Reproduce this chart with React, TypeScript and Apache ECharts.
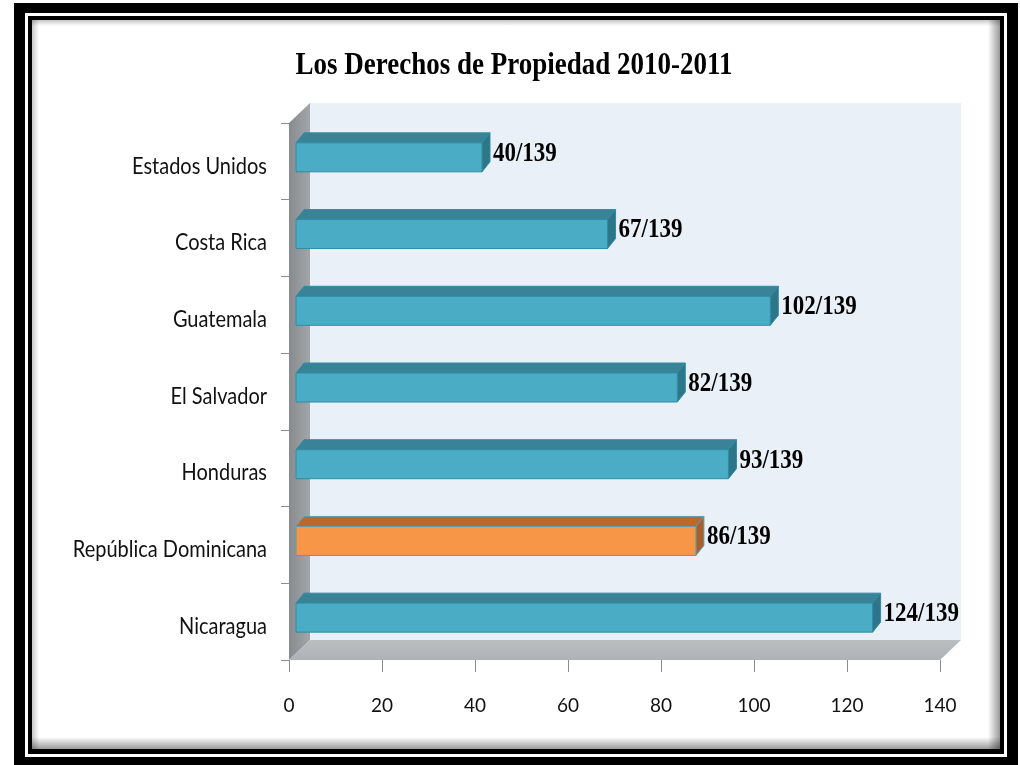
import React, { useEffect, useRef } from "react";
import * as echarts from "echarts";

const TITLE = "Los Derechos de Propiedad 2010-2011";
const categories = [
  "Estados Unidos",
  "Costa Rica",
  "Guatemala",
  "El Salvador",
  "Honduras",
  "República Dominicana",
  "Nicaragua",
];
const ranks = [40, 67, 102, 82, 93, 86, 124];
const totalCountries = 139;
const highlightCategory = "República Dominicana";
const xMin = 0;
const xMax = 140;
const xInterval = 20;

export default function App() {
  const ref = useRef<HTMLDivElement>(null);

  useEffect(() => {
    const chart = echarts.init(ref.current!, null, { renderer: "svg" });

    // 3D depth offsets (pixels)
    const DX = 21;
    const DY = -20;

    const wallsRender = (params: any, api: any) => {
      const cs = params.coordSys;
      const x0 = cs.x;
      const y0 = cs.y;
      const x1 = cs.x + cs.width;
      const y1 = cs.y + cs.height;
      return {
        type: "group",
        children: [
          {
            type: "rect",
            shape: { x: x0 + DX, y: y0 + DY, width: cs.width, height: cs.height },
            style: { fill: "#E9F0F7" },
          },
          {
            type: "polygon",
            shape: {
              points: [
                [x0, y0],
                [x0 + DX, y0 + DY],
                [x0 + DX, y1 + DY],
                [x0, y1],
              ],
            },
            style: {
              fill: new echarts.graphic.LinearGradient(0, 0, 1, 0, [
                { offset: 0, color: "#878B8F" },
                { offset: 1, color: "#A3A6A9" },
              ]),
            },
          },
          {
            type: "polygon",
            shape: {
              points: [
                [x0, y1],
                [x0 + DX, y1 + DY],
                [x1 + DX, y1 + DY],
                [x1, y1],
              ],
            },
            style: {
              fill: new echarts.graphic.LinearGradient(0, 0, 0, 1, [
                { offset: 0, color: "#BABEC1" },
                { offset: 1, color: "#ADB2B6" },
              ]),
            },
          },
        ],
      };
    };

    const barsRender = (params: any, api: any) => {
      const v = api.value(0);
      const i = api.value(1);
      const end = api.coord([v, i]);
      const start = api.coord([0, i]);
      const band = api.size([0, 1])[1];
      const h = Math.round(band * 0.38);
      const fx = 7;
      const fy = -4;
      const tx = 8;
      const ty = -10;
      const left = start[0] + fx;
      const right = end[0] + fx;
      const top = end[1] + fy - h / 2;
      const bottom = top + h;
      const hi = categories[i] === highlightCategory;
      const front = hi ? "#F79646" : "#4BACC6";
      const topC = hi ? "#B9692F" : "#3A8397";
      const side = hi ? "#A85F2A" : "#2F7588";
      const edge = hi ? "#5E9BAA" : "#2E8CA3";
      return {
        type: "group",
        children: [
          {
            type: "polygon",
            shape: {
              points: [
                [left, top],
                [left + tx, top + ty],
                [right + tx, top + ty],
                [right, top],
              ],
            },
            style: { fill: topC, stroke: edge, lineWidth: 1 },
          },
          {
            type: "polygon",
            shape: {
              points: [
                [right, top],
                [right + tx, top + ty],
                [right + tx, bottom + ty],
                [right, bottom],
              ],
            },
            style: { fill: side, stroke: edge, lineWidth: 1 },
          },
          {
            type: "rect",
            shape: { x: left, y: top, width: right - left, height: h },
            style: { fill: front, stroke: edge, lineWidth: 1 },
          },
          {
            type: "text",
            x: right + tx + 3,
            y: top + h / 2 - 6,
            scaleY: 1.22,
            style: {
              text: `${v}/${totalCountries}`,
              fontFamily: "Liberation Serif",
              fontWeight: "bold",
              fontSize: 23,
              fill: "#000000",
              align: "left",
              verticalAlign: "middle",
            },
          },
          {
            type: "text",
            x: start[0] - 22,
            y: start[1] + 3,
            scaleY: 1.18,
            style: {
              text: categories[i],
              fontFamily: "Lato",
              fontSize: 20,
              fill: "#111111",
              align: "right",
              verticalAlign: "middle",
            },
          },
        ],
      };
    };

    const shadow = (x: number, y: number, w: number, h: number, horiz: boolean, inward: boolean) => ({
      type: "rect",
      z: -5,
      shape: { x, y, width: w, height: h },
      style: {
        fill: new echarts.graphic.LinearGradient(
          0,
          0,
          horiz ? 1 : 0,
          horiz ? 0 : 1,
          inward
            ? [
                { offset: 0, color: "rgba(0,0,0,0.22)" },
                { offset: 1, color: "rgba(0,0,0,0)" },
              ]
            : [
                { offset: 0, color: "rgba(0,0,0,0)" },
                { offset: 1, color: "rgba(0,0,0,0.4)" },
              ]
        ),
      },
    });

    const option: any = {
      animation: false,
      graphic: [
        { type: "rect", z: -10, shape: { x: 14, y: 3, width: 1004, height: 762 }, style: { fill: "#000" } },
        { type: "rect", z: -9, shape: { x: 25, y: 13, width: 982, height: 744 }, style: { fill: "#fff" } },
        { type: "rect", z: -8, shape: { x: 28, y: 16, width: 976, height: 738 }, style: { fill: "#000" } },
        { type: "rect", z: -7, shape: { x: 32, y: 20, width: 968, height: 729 }, style: { fill: "#fff" } },
        shadow(32, 20, 7, 729, true, true),
        shadow(32, 20, 968, 6, false, true),
        shadow(988, 20, 12, 729, true, false),
        shadow(32, 737, 968, 12, false, false),
        {
          type: "text",
          z: 10,
          x: 514,
          y: 63,
          scaleY: 1.2,
          style: {
            text: TITLE,
            fontFamily: "Liberation Serif",
            fontWeight: "bold",
            fontSize: 27,
            fill: "#000",
            align: "center",
            verticalAlign: "middle",
          },
        },
      ],
      grid: { left: 289, right: 80, top: 123, bottom: 105, containLabel: false },
      xAxis: {
        type: "value",
        min: xMin,
        max: xMax,
        interval: xInterval,
        axisLine: { show: false },
        axisTick: { show: true, length: 12, lineStyle: { color: "#8C8C8C" } },
        splitLine: { show: false },
        axisLabel: {
          fontFamily: "Lato",
          fontSize: 19,
          color: "#111111",
          margin: 35,
        },
      },
      yAxis: {
        type: "category",
        inverse: true,
        data: categories,
        axisLine: { show: false },
        axisTick: { show: true, length: 8, alignWithLabel: false, lineStyle: { color: "#8C8C8C" } },
        axisLabel: { show: false },
        splitLine: { show: false },
      },
      series: [
        {
          type: "custom",
          name: "walls",
          silent: true,
          z: 1,
          renderItem: wallsRender,
          data: [[0, 0]],
          encode: { x: 0, y: 1 },
        },
        {
          type: "custom",
          name: "Rank",
          z: 3,
          renderItem: barsRender,
          data: ranks.map((v, i) => [v, i]),
          encode: { x: 0, y: 1 },
        },
      ],
    };

    chart.setOption(option);
    return () => chart.dispose();
  }, []);

  return (
    <div
      ref={ref}
      style={{ position: "fixed", left: 0, top: 0, width: 1020, height: 765 }}
    />
  );
}
